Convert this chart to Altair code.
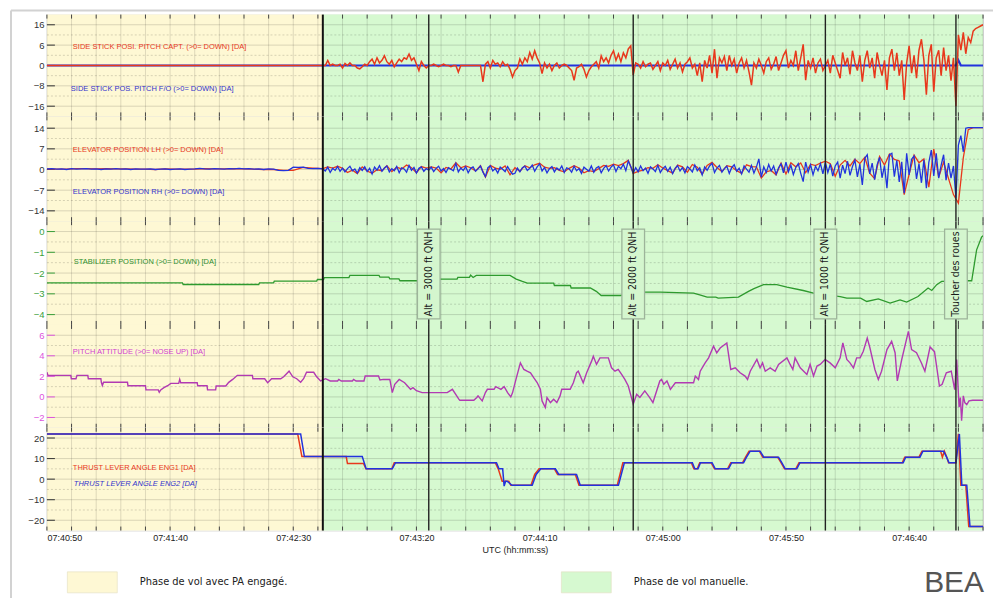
import altair as alt
import pandas as pd

# ---------------- data: time in seconds after 07:40:50 UTC ----------------
grid_times = list(range(0, 381, 10))
label_times = list(range(0, 351, 50))

phase_names = ["Phase de vol avec PA engagé.", "Phase de vol manuelle."]
phase_start = [0, 112]
phase_end = [112, 380]

phase_change_time = [112]
event_times = [155, 238, 316, 369]
event_texts = ["Alt = 3000 ft QNH", "Alt = 2000 ft QNH", "Alt = 1000 ft QNH", "Toucher des roues"]

# side stick pitch, captain (red) and F/O (blue)
ss_capt_t = [0] + list(range(112, 381))
ss_capt_v = [0,
    0, 0, 2, 0, 0.5, 0, 0, 0.5, -1, 0.8,
    0, 1, 0, 0, -1, -1.3, -0.5, 0.5, 0, 1.5,
    2.5, 0.5, 3, 1, 2, 3.8, 1.5, 0.5, 2, -0.5,
    1, 2.5, 1.5, 3, 2.5, 4.5, 2, 3, 0.5, -2,
    1.5, 0, -1, 0, 0, 0.5, 0, -0.5, 0, 0.5,
    0, 0, -0.5, 0, 0, -2.6, 0, 0, 0, 0,
    0, 0, 0, 0, 0, -6.4, 0.5, 1.5, -1, 2,
    0.5, 1, -0.5, 1.5, 0, 0.5, -1.5, -4.5, -2, -1,
    2.6, 0.5, 3, 1.5, 5.1, 2.5, 5.8, 3, 1, -3.2,
    1, -1, 0.5, -2, 0, 1, -1, 0, 0.5, 0,
    -1, -2, -5.8, -1, -0.5, 0.5, -1.5, -4.5, -2, -0.5,
    0.5, 1.5, -1, 3.8, 1.5, 3, 1, 4, 5.8, 2,
    4.5, 1.5, 5, 3, 6.5, 7.7, -3.8, 1, 0.5, -1,
    1.5, -0.5, 0.5, 1, -1.5, 0, 1.5, -2, 1, 0,
    2, -1.5, 0.5, 2.5, -1, 1, -2.5, 0.5, 1.5, 3,
    -1, 0.5, -4, 1, -6.4, 2, -1, 4, -3, 6.4,
    -5, 3, 1, 3.5, -2, 4, 0, 2.5, -3, 1,
    3, -1, 2, -2.5, -7.7, 1, -1, 2.5, 0, -3,
    1.5, 3, -1.5, 0.5, 3.5, -2, 1, 4, 5.8, -1,
    2, 0, 5.8, -2, 3, 8.3, -5.8, 2, -1, 3,
    -3, 1, 2.5, -2, 0, 2, -3, 4, 1, -2,
    -5, 5.1, 0, 3, -3.5, 5.8, 1, -2, 4, -6.4,
    2, 5.8, -1, 3, -5, 5.1, 0, -4, 2, -9.6,
    3, 6.4, -2, 5, -4, 2, -13.5, 1, 7.7, -3,
    4, -5, 6, 10.3, 2, -11.5, 4, 8.3, -10.3, 3,
    6, -4, 7, -2, 4, -6, 3, -16, 12, 6,
    13, 4.6, 11, 9, 13.5, 14.5, 15, 15.5, 16]
ss_fo_t = [0, 369, 370, 371, 380]
ss_fo_v = [0, 0, 2, 0, 0]

# elevator position RH (blue) and LH (red)
elev_rh_t = list(range(0, 112, 2)) + list(range(112, 381))
elev_rh_v = [
    0.2, 0.3, 0.1, 0.2, 0, 0.3, 0.1, 0.2, 0.3, 0.1,
    0.2, 0, 0.2, 0.1, 0.3, 0.1, 0.2, 0, 0.2, 0.1,
    0.1, 0.2, 0, 0.1, 0.2, 0, 0.1, 0.2, 0, 0.1,
    0.2, 0.4, 0.2, 0.1, 0.3, 0.2, 0.1, 0.3, 0.2, 0.4,
    0.2, 0.3, 0.1, 0.2, 0, 0.2, 0.1, -0.3, -0.4, -0.3,
    0.8, 0.7, 0.8, 0.4, 0.3, 0.4,
    0.2, -0.5, 0.8, -1, 0.4, -0.3, 1, -0.6, 0.5, -0.8,
    0.3, 1.1, -0.4, 0.2, -1.2, 0.6, -0.3, 0.9, -0.7, 0.4,
    -1.5, 0.8, -0.2, 1.3, -0.6, 0.5, 1.2, -0.8, 0.3, -0.4,
    1, -1.1, 0.6, 0.2, -0.9, 1.4, -0.3, 0.7, -1.2, 0.4,
    0.9, -0.6, 0.3, -0.2, 0.8, -0.7, 0.4, 1.1, -0.5, 0.3,
    -1, 0.6, 0.1, -0.4, 2.1, -0.8, 0.5, -0.3, 1, -1.1,
    0.4, 0.9, -0.6, 0.2, 1.2, -0.9, -2.4, 0.6, 1.3, -0.5,
    0.3, -1.2, 0.8, 0.1, -0.7, 1, -0.4, -1.6, -1.3, 0.5,
    -0.8, 0.6, 1.1, -0.3, 0.4, 1.5, -0.6, 0.9, 1.9, -0.5,
    0.7, -1.1, 0.3, 1, -0.8, 0.5, -0.2, 1.2, -1, 0.6,
    0.2, -0.9, 1.1, -0.4, 0.3, -1.3, 0.8, 0.1, -0.6, 1.2,
    -0.9, 0.5, 1, -1.1, 0.4, 1.3, -0.5, 0.8, 1.6, -0.7,
    1.1, 0.3, 1.8, -0.4, 2.9, 1, -1.2, 0.6, -0.8, 1.2,
    -0.4, 0.5, -1.3, 0.9, 0.2, -0.7, 1.4, -1, 0.3, 1.1,
    -0.6, 0.8, -1.4, 0.4, 1.3, -0.5, 0.7, -1.1, 1, 0.2,
    -0.8, 1.5, -0.4, 0.6, -1.8, 0.9, -0.3, 1.2, 2.1, -1,
    0.5, 1.4, -0.9, 0.3, 1.1, -1.3, 0.7, 1.6, -0.6, 0.4,
    -1.5, 1.2, 0.1, -0.9, 1.4, -1.2, 0.8, 3.6, -2.6, 0.9,
    -1, 1.7, -0.5, 1.2, -1.6, 0.6, 1.9, -1.1, 2.5, -0.8,
    1.4, -1.7, 0.7, 2, -1.3, -4.1, 2.5, -0.9, 1.6, -1.8,
    1.1, -0.4, 2, -1.5, 2.5, -1, 1.8, -2.2, 1.2, 2.5,
    -2.9, 1.5, -1.4, 2.8, -2, 1, 3.2, -2.5, 1.8, -5.2,
    3.8, 5, -1.5, 2.2, -3.4, 1.6, 4.1, -2.8, 1.3, -6.3,
    5, 5.5, -2.4, 3.1, -4.2, 2.6, -8, 5.5, -1.8, 3.5,
    4.6, -3.2, 2, -4.5, 3.3, -6.3, 2.4, 6.6, -2.2, 5.5,
    -2.9, 1.5, 5, -3.6, 2.2, -2.9, 1.2, -9.7, 8.3, 11.5,
    6, 14, 14.2, 14.2, 14.2, 14.2, 14.2, 14.2, 14.2]
elev_lh_t = list(range(0, 112, 4)) + list(range(112, 381, 2))
elev_lh_v = [
    0.2, 0.1, 0.1, 0.3, 0.3, 0.2, 0.3, 0.2, 0.2, 0.1,
    0.1, 0, 0.2, 0.1, 0.1, 0.1, 0.3, 0.2, 0.2, 0.3,
    0.2, 0.1, 0, 0, -0.3, -0.3, 0.7, 0.5,
    0.3, 0.9, 0.5, 1.1, 0.4, -1, -0.2, -1.4, 0.9, -0.5,
    -1.3, -0.1, -0.4, 1.3, -0.7, 0.8, 0.2, 1.5, 0.6, -1.1,
    1, 0.5, 0.9, 0.5, -1.1, 0.7, 0.2, 2.3, 0.6, 1.2,
    0.6, -0.5, 1.3, -2.6, 1.4, 0.5, 0.1, 1.2, -1.8, 0.6,
    -0.6, 1.3, 0.6, 1.6, 2.1, 0.8, 0.4, 0.6, -0.3, -0.8,
    0.4, 1.3, 0.5, -1.1, -0.4, -0.7, 0.3, 1.4, 1.1, 1.8,
    1.3, 2, 3.1, -1.3, -0.6, -0.2, 0.6, 0.4, 1.6, 0.5,
    -0.4, -1.2, 1.5, 0.9, -0.9, 1.7, 0.8, -1.6, 1.4, 2.4,
    0.7, -0.7, 1.3, 0.9, -0.4, -1.3, 1.6, 1, 0.9, -2.9,
    -0.8, -0.3, -1.8, 2.2, -1.5, 2.3, 0.9, 2.2, -1.1, 1.8,
    1.3, 2.2, 2.8, 2, -2.3, 1.5, 3.1, 1.2, 3.5, 2,
    4.1, -1.2, -3.1, 4.4, 1.5, 5.2, 3.4, 2.9, -8.5, -1.6,
    4.9, 2.3, 3.6, -6, 6.9, -2.6, 2.5, -3.1, -8.5, -11.4,
    4, 13.5, 14.2, 14.2, 14.2]

# stabilizer position (t, deg)
stab_points = [
    (0, -2.47), (55, -2.47), (55.3, -2.55), (86, -2.55), (86.3, -2.47), (92, -2.47),
    (92.3, -2.39), (109.5, -2.39), (109.8, -2.31), (112.3, -2.31), (112.6, -2.22),
    (122.6, -2.22), (123, -2.11), (134.8, -2.11), (135.2, -2.2), (138.8, -2.2),
    (139.2, -2.28), (142.9, -2.28), (143.3, -2.37), (150, -2.37), (159.4, -2.29),
    (166.5, -2.29), (166.8, -2.21), (171.5, -2.21), (172, -2.1), (173, -2.21),
    (174.3, -2.11), (188, -2.11), (190.5, -2.29), (193, -2.4), (195, -2.48),
    (205.7, -2.48), (206, -2.6), (212.5, -2.6), (212.8, -2.72), (220.6, -2.72),
    (223, -2.88), (225, -3.08), (232.8, -3.08), (241.3, -2.92), (249, -2.92),
    (262.5, -2.97), (265, -3.05), (268, -3.16), (271.5, -3.16), (272.5, -3.21),
    (280.7, -3.16), (284.8, -2.88), (287, -2.75), (290.9, -2.56), (296.3, -2.56),
    (300.4, -2.68), (307, -2.84), (311.2, -2.97), (322, -3.13), (324.7, -3.21),
    (330.3, -3.21), (332.8, -3.37), (337.5, -3.24), (342.3, -3.45), (346.3, -3.29),
    (349, -3.4), (353.6, -3.13), (357.7, -2.72), (359.2, -2.84), (361.2, -2.56),
    (363.2, -2.4), (373.4, -2.37), (375.4, -2.37), (377.4, -0.88), (379.4, -0.27),
    (380, -0.2)]

# pitch attitude (t, deg)
pitch_points = [
    (0, 2.4), (0.4, 2.1), (9.7, 2.1), (9.9, 1.77), (11.8, 1.77), (12.2, 2.1), (16.6, 2.1),
    (16.8, 1.77), (21.9, 1.77), (22.1, 1.42), (22.5, 1.1), (23, 1.42), (32.7, 1.42),
    (32.9, 1.09), (40, 1.09), (40.2, 0.68), (45.2, 0.68), (45.6, 0.45), (46.2, 0.68),
    (47.5, 0.9), (49, 1.09), (50.3, 1.32), (53.5, 1.32), (53.9, 1.7), (54.3, 1.38),
    (61, 1.38), (61.2, 1.09), (65, 1.09), (65.2, 0.68), (68.5, 0.68), (68.7, 1.06),
    (72.6, 1.06), (73.8, 1.42), (75.4, 1.7), (77.3, 2.1), (83.4, 2.1), (83.6, 1.77),
    (88.4, 1.77), (89.6, 1.38), (91.2, 1.77), (94.9, 1.77), (96.1, 1.96), (98.3, 2.5),
    (99.8, 1.96), (101.4, 1.77), (103, 1.42), (104.2, 1.77), (105.4, 2.4), (108.3, 2.4),
    (109.5, 1.96), (111.1, 1.55), (113.1, 1.77), (115, 1.55), (118, 1.55), (118.5, 1.7),
    (119.5, 1.55), (124, 1.55), (124.5, 1.7), (125.5, 1.55), (128.7, 1.55), (129.2, 2.03),
    (134.6, 2.03), (135.2, 1.64), (136.5, 1.7), (139.2, 1.7), (140.2, 0.42), (141.2, 1.23),
    (143, 1.7), (145.2, 1.38), (147.6, 0.74), (148.6, 0.9), (150, 0.6), (152.3, 0.42),
    (162.5, 0.42), (164.6, 0.74), (167.2, -0.22), (167.6, -0.32), (173.3, -0.32),
    (174.5, -0.06), (175, 0.1), (176.7, -0.39), (178, 0.42), (178.8, 0.74), (181.5, 0.74),
    (182.2, 1.0), (184.3, 0.74), (185.6, 1.0), (187, 0.42), (188.3, 0.0), (189, 0.4),
    (190.4, 1.7), (192.2, 3.31), (193.6, 2.67), (194.9, 2.5), (196.3, 2.35), (197.6, 1.87),
    (199, 1.4), (200.3, 0.74), (201, -0.39), (202.3, -1.03), (203, -0.06), (204.4, -0.55),
    (205.7, -0.22), (207, -0.55), (208.3, 0.1), (209, 0.74), (212.4, 0.74), (213.7, 1.38),
    (215, 2.35), (215.7, 2.5), (217.7, 1.38), (219.1, 2.35), (221.1, 3.48), (221.8, 3.96),
    (223.1, 3.16), (224.5, 3.8), (227.9, 3.8), (229.2, 2.83), (230.6, 2.5), (231.9, 2.67),
    (233.3, 2.19), (234.6, 1.7), (236, 1.06), (238, -0.71), (239.4, 0.26), (240.7, -0.06),
    (242.7, 0.58), (244.7, -0.06), (246, -0.55), (248.8, 1.55), (249.5, 1.7), (250.4, 1.23),
    (251.7, 1.55), (253.1, 0.74), (255.1, 1.38), (262.5, 1.38), (263.2, 2.03), (264.5, 1.7),
    (265.2, 2.5), (267.2, 3.31), (268.6, 3.8), (270.6, 4.93), (271.9, 4.28), (273.3, 4.76),
    (276, 5.25), (277.6, 2.67), (279.4, 2.83), (281.4, 2.35), (283.4, 2.03), (284.4, 1.7),
    (285.5, 2.5), (288.2, 3.64), (289.5, 2.83), (290.5, 3.31), (291.6, 2.5), (293.6, 2.83),
    (295.6, 2.5), (297, 3.16), (300.4, 3.8), (301.7, 3.16), (302.8, 2.67), (303.7, 3.8),
    (305.8, 2.83), (308.5, 2.19), (309.8, 3.16), (311.2, 2.03), (312.6, 3.0), (313.9, 3.16),
    (315.9, 3.64), (317.9, 3.31), (320, 2.83), (322, 3.8), (323.1, 5.25), (324.7, 3.64),
    (326, 3.31), (327.4, 2.83), (328.7, 3.8), (330.1, 3.8), (331.4, 4.44), (333, 5.73),
    (334.1, 4.76), (336.1, 2.67), (337.5, 1.7), (338.8, 2.5), (341, 4.6), (342.9, 5.41),
    (344.3, 4.3), (345.2, 1.55), (347, 3.64), (349.7, 6.38), (351, 4.6), (353, 4.3),
    (355, 3.3), (356.4, 2.5), (358.5, 4.85), (360.3, 4.4), (362.3, 1.06), (363.4, 1.23),
    (365.1, 2.35), (367.1, 2.5), (368.5, 0.7), (369.3, 3.64), (369.8, 1.23), (370.3, -1.0),
    (370.8, -0.06), (371.3, -2.32), (372, 0.1), (372.6, -0.55), (373.4, -0.75),
    (374.3, -0.39), (375.8, -0.32), (380, -0.32)]

# thrust lever angles (t, deg)
tla1_points = [
    (0, 22), (101.8, 22), (103.5, 11), (121.5, 11), (122, 7.6), (128.5, 7.6), (129.5, 5),
    (140, 5), (141, 8), (182, 8), (183.2, 5), (184.8, -1), (187.5, -1), (188.3, -3),
    (196.5, -3), (198, 2.3), (199.8, 5), (206, 5), (207.3, 2.3), (214.5, 2.3), (216, -3),
    (231.5, -3), (233.8, 8), (261.6, 8), (262.6, 5), (264, 5), (265, 8), (269.6, 8),
    (271, 5), (276.3, 5), (277.6, 8), (282.4, 8), (283.6, 10.7), (285, 13.6), (289.2, 13.6),
    (290.6, 10.7), (296.6, 10.7), (298, 8), (299.4, 5), (304, 5), (305.3, 8), (347.2, 8),
    (348.2, 10.7), (354, 10.7), (355.2, 13.6), (362.8, 13.6), (363.5, 10.7), (364.3, 13.6),
    (365.3, 10.7), (366, 8), (369, 8), (370, 22), (371, -3), (373, -3), (374.2, -23),
    (380, -23)]
tla2_points = [
    (0, 22), (103, 22), (104.5, 11), (128, 11), (129.6, 5), (140.2, 5), (141.5, 8),
    (182.5, 8), (183.5, 5), (185, 5), (185.6, -3.4), (186.2, -1), (186.8, -1), (188.8, -3),
    (197, -3), (198.6, 2.3), (200.5, 5), (206.4, 5), (207.8, 2.3), (215, 2.3), (216.5, -3),
    (232, -3), (234.4, 8), (262, 8), (263, 5), (264.3, 5), (265.3, 8), (270, 8), (271.3, 5),
    (276.7, 5), (278, 8), (282.8, 8), (284, 10.7), (285.5, 13.6), (289.5, 13.6), (291, 10.7),
    (297, 10.7), (298.3, 8), (299.7, 5), (304.4, 5), (305.7, 8), (347.6, 8), (348.6, 10.7),
    (354.4, 10.7), (355.6, 13.6), (364, 13.6), (365.2, 10.7), (366.2, 8), (369, 8),
    (370.4, 22), (371.4, -3), (373.4, -3), (374.7, -23), (380, -23)]

assert len(ss_capt_t) == len(ss_capt_v)
assert len(elev_rh_t) == len(elev_rh_v)
assert len(elev_lh_t) == len(elev_lh_v)

# ---------------- styling ----------------
FONT = "Liberation Sans, Arial, sans-serif"
NARROW = "Liberation Sans Narrow, DejaVu Sans Condensed, Liberation Sans, sans-serif"
RED = "#E8381C"
BLUE = "#2233DD"
GREEN = "#2E9A2E"
MAGENTA = "#B23AB2"
W = 938
XS = alt.Scale(domain=[0, 380], nice=False, zero=False)


def frame(t, v):
    return pd.DataFrame({"t": t, "v": v})


def pts(points):
    return pd.DataFrame(points, columns=["t", "v"])


phase_df = pd.DataFrame({"phase": phase_names, "start": phase_start, "end": phase_end})
grid_df = pd.DataFrame({"t": grid_times})
chg_df = pd.DataFrame({"t": phase_change_time})
ev_df = pd.DataFrame({"t": event_times})
ann_df = pd.DataFrame({"t": event_times, "text": event_texts})
one = pd.DataFrame({"d": [0]})

LEGEND = alt.Legend(
    orient="none", legendX=20, legendY=543, direction="horizontal", title=None,
    symbolType="M-1,-0.42H1V0.42H-1Z", symbolSize=2500, symbolStrokeWidth=0.6,
    symbolStrokeColor="#e2ddc0", symbolOpacity=1, labelFontSize=11, labelFont=NARROW,
    labelColor="#222", labelOffset=22, columnPadding=272, labelLimit=400)


def panel(h, ydom, yticks, yminor, axcolor, series, labels, bottom=False,
          label_expr=None, boxes=False, frame_line=False):
    YS = alt.Scale(domain=ydom, nice=False, zero=False)
    if bottom:
        xaxis = alt.Axis(values=label_times, ticks=False, domain=False, grid=False,
                         labelExpr="timeFormat(datetime(2000, 0, 1, 7, 40, 50 + datum.value), '%H:%M:%S')",
                         labelFontSize=9, labelColor="#222", labelPadding=3, labelFont=FONT,
                         title="UTC (hh:mm:ss)", titleFontSize=9, titleFontWeight="normal",
                         titleColor="#222", titlePadding=3, titleFont=FONT)
    else:
        xaxis = None
    yax = dict(values=yticks, ticks=False, domain=False, grid=False, labelColor=axcolor,
               labelFontSize=9.5, labelPadding=3, title=None, labelFont=FONT)
    if label_expr:
        yax["labelExpr"] = label_expr
    yaxis = alt.Axis(**yax)

    def X(f):
        return alt.X(f, type="quantitative", scale=XS, axis=xaxis)

    def Y(f):
        return alt.Y(f, type="quantitative", scale=YS, axis=yaxis)

    layers = []
    layers.append(alt.Chart(phase_df).mark_rect().encode(
        x=X("start"), x2="end", y=alt.value(0), y2=alt.value(h),
        color=alt.Color("phase:N", scale=alt.Scale(
            domain=phase_names, range=["#FEF8D4", "#D6F9D0"]), legend=LEGEND)))

    layers.append(alt.Chart(grid_df).mark_rule(color="#000", opacity=0.13, strokeWidth=1).encode(
        x=X("t"), y=alt.value(0), y2=alt.value(h)))

    ytick_df = pd.DataFrame({"v": yticks})
    layers.append(alt.Chart(ytick_df).mark_rule(color="#000", opacity=0.15).encode(
        y=Y("v"), x=alt.value(0), x2=alt.value(W)))
    layers.append(alt.Chart(pd.DataFrame({"v": yminor})).mark_rule(
        color="#000", opacity=0.16, strokeDash=[2, 2]).encode(
        y=Y("v"), x=alt.value(0), x2=alt.value(W)))
    # inward x ticks at top and bottom of each panel
    layers.append(alt.Chart(grid_df).mark_rule(color="#444", strokeWidth=1).encode(
        x=X("t"), y=alt.value(0), y2=alt.value(4)))
    layers.append(alt.Chart(grid_df).mark_rule(color="#444", strokeWidth=1).encode(
        x=X("t"), y=alt.value(h - 4), y2=alt.value(h)))
    # inward y ticks
    layers.append(alt.Chart(ytick_df).mark_rule(color=axcolor, strokeWidth=1).encode(
        y=Y("v"), x=alt.value(0), x2=alt.value(8)))

    for df, color, sw in series:
        layers.append(alt.Chart(df).mark_line(color=color, strokeWidth=sw, clip=True).encode(
            x=X("t"), y=Y("v")))

    layers.append(alt.Chart(ev_df).mark_rule(color="#222", strokeWidth=1.4).encode(
        x=X("t"), y=alt.value(0), y2=alt.value(h)))
    layers.append(alt.Chart(chg_df).mark_rule(color="#111", strokeWidth=2).encode(
        x=X("t"), y=alt.value(0), y2=alt.value(h)))

    if boxes:
        layers.append(alt.Chart(ann_df).transform_calculate(
            t0="datum.t - 4.6", t1="datum.t + 4.6").mark_rect(
            fill="#D4F6CE", stroke="#9DB49A", strokeWidth=1.3).encode(
            x=X("t0:Q"), x2="t1:Q", y=alt.value(8), y2=alt.value(98)))
        layers.append(alt.Chart(ann_df).mark_text(
            angle=270, align="center", baseline="middle", fontSize=10.5, font=NARROW,
            color="#1a1a1a").encode(x=X("t"), y=alt.value(53), text="text:N"))

    for text, px, py, color, italic in labels:
        kw = dict(align="left", baseline="middle", fontSize=7.5, font=FONT, color=color,
                  text=text)
        if italic:
            kw["fontStyle"] = "italic"
        layers.append(alt.Chart(one).mark_text(**kw).encode(x=alt.value(px), y=alt.value(py)))

    if bottom:
        layers.append(alt.Chart(one).mark_text(
            text="BEA", fontSize=30, font=FONT, color="#555", align="center",
            baseline="middle").encode(x=alt.value(909), y=alt.value(156)))
    if frame_line:
        layers.append(alt.Chart(one).mark_rule(color="#d2d2d2", strokeWidth=2).encode(
            x=alt.value(-36), y=alt.value(-4), y2=alt.value(585)))
        layers.append(alt.Chart(one).mark_rule(color="#d2d2d2", strokeWidth=2).encode(
            x=alt.value(-36), x2=alt.value(948), y=alt.value(-4)))

    return alt.layer(*layers).properties(width=W, height=h)


p1 = panel(102, [-20, 20], [16, 8, 0, -8, -16], [12, 4, -4, -12], "#333",
           [(frame(ss_fo_t, ss_fo_v), BLUE, 2.2), (frame(ss_capt_t, ss_capt_v), RED, 1.5)],
           [("SIDE STICK POSI. PITCH CAPT. (>0= DOWN) [DA]", 26, 32, RED, False),
            ("SIDE STICK POS. PITCH F/O (>0= DOWN) [DA]", 24, 75, "#3333CC", False)],
           label_expr="datum.value == 8 ? '6' : datum.label", frame_line=True)
p2 = panel(105, [-17.5, 18], [14, 7, 0, -7, -14], [10.5, 3.5, -3.5, -10.5], "#333",
           [(frame(elev_lh_t, elev_lh_v), RED, 1.3), (frame(elev_rh_t, elev_rh_v), BLUE, 1.3)],
           [("ELEVATOR POSITION LH (>0= DOWN) [DA]", 26, 34, RED, False),
            ("ELEVATOR POSITION RH (>0= DOWN) [DA]", 26, 76, "#3333CC", False)])
p3 = panel(104, [-4.5, 0.5], [0, -1, -2, -3, -4], [-0.5, -1.5, -2.5, -3.5], "#3AA03A",
           [(pts(stab_points), GREEN, 1.3)],
           [("STABILIZER POSITION (>0= DOWN) [DA]", 27, 41, "#2F8F2F", False)],
           boxes=True)
p4 = panel(103, [-3, 7], [6, 4, 2, 0, -2], [5, 3, 1, -1], "#DD55DD",
           [(pts(pitch_points), MAGENTA, 1.4)],
           [("PITCH ATTITUDE (>0= NOSE UP) [DA]", 26, 27, "#D03FD0", False)])
p5 = panel(103, [-25, 25], [20, 10, 0, -10, -20], [15, 5, -5, -15], "#333",
           [(pts(tla1_points), RED, 1.5), (pts(tla2_points), BLUE, 1.5)],
           [("THRUST LEVER ANGLE ENG1 [DA]", 26, 40, RED, False),
            ("THRUST LEVER ANGLE ENG2 [DA]", 27, 56, "#3333CC", True)],
           bottom=True)

chart = alt.vconcat(p1, p2, p3, p4, p5, spacing=0, bounds="flush").properties(
    padding={"left": 1, "top": 0, "right": 2, "bottom": 0},
    background="white",
).configure_view(stroke="#555", strokeWidth=1.2).configure(font=FONT)

chart.save("out.html", embed_options={"renderer": "svg", "actions": False})
